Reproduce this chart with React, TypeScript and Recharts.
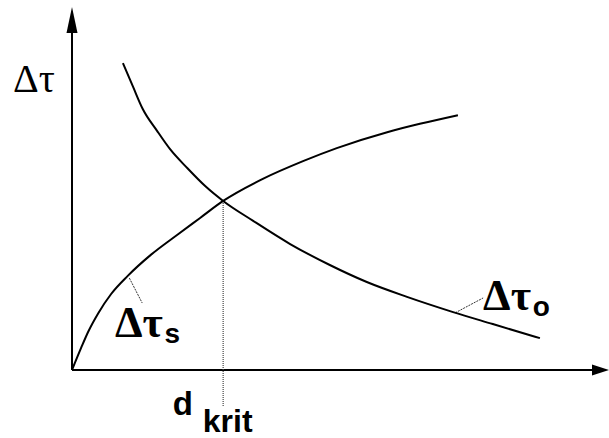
import { LineChart, Line, XAxis, YAxis, ReferenceLine, ReferenceDot } from "recharts";

// d (thickness) against Δτ, both in arbitrary units 0..10
const rising = [
  { x: 0, y: 0 },
  { x: 0.17, y: 0.61 },
  { x: 0.3, y: 1.05 },
  { x: 0.49, y: 1.57 },
  { x: 0.73, y: 2.1 },
  { x: 1.04, y: 2.6 },
  { x: 1.47, y: 3.18 },
  { x: 1.96, y: 3.73 },
  { x: 2.39, y: 4.2 },
  { x: 2.82, y: 4.67 },
  { x: 3.56, y: 5.28 },
  { x: 4.31, y: 5.77 },
  { x: 4.94, y: 6.13 },
  { x: 5.88, y: 6.57 },
  { x: 6.49, y: 6.8 },
  { x: 7.2, y: 7.04 },
];

const falling = [
  { x: 0.95, y: 8.48 },
  { x: 1.14, y: 7.82 },
  { x: 1.32, y: 7.21 },
  { x: 1.59, y: 6.6 },
  { x: 1.83, y: 6.1 },
  { x: 2.15, y: 5.58 },
  { x: 2.5, y: 5.06 },
  { x: 2.82, y: 4.67 },
  { x: 3.38, y: 4.12 },
  { x: 4.07, y: 3.48 },
  { x: 4.81, y: 2.9 },
  { x: 5.5, y: 2.43 },
  { x: 6.25, y: 2.02 },
  { x: 7.11, y: 1.6 },
  { x: 7.85, y: 1.27 },
  { x: 8.73, y: 0.88 },
];

// crossing point of both curves
const dKrit = 2.82;
const tauKrit = 4.67;

const SERIF = "'Liberation Serif', 'Times New Roman', serif";
const SANS = "'Liberation Sans', Arial, sans-serif";

const yArrow = (p: any) => (
  <polygon points={`${p.cx},${p.cy - 1} ${p.cx - 5.5},${p.cy + 25} ${p.cx + 5.5},${p.cy + 25}`} fill="#000" />
);

const xArrow = (p: any) => (
  <polygon points={`${p.cx + 1},${p.cy} ${p.cx - 16},${p.cy - 5.5} ${p.cx - 16},${p.cy + 5.5}`} fill="#000" />
);

const tauLabel = (sub: string, size: number, bold: boolean) => (p: any) => (
  <g fill="#000">
    <text x={p.cx} y={p.cy} fontFamily={SERIF} fontSize={size} fontWeight={bold ? "bold" : "normal"}>
      Δτ
    </text>
    {sub && (
      <text x={p.cx + size * 1.13} y={p.cy + 6} fontFamily={SANS} fontWeight="bold" fontSize={28}>
        {sub}
      </text>
    )}
  </g>
);

const dLabel = (p: any) => (
  <g fill="#000">
    <text x={p.cx} y={p.cy} fontFamily={SANS} fontWeight="bold" fontSize={33}>d</text>
    <text x={p.cx + 30} y={p.cy + 17} fontFamily={SANS} fontWeight="bold" fontSize={32}>krit</text>
  </g>
);

export default function App() {
  return (
    <div style={{ position: "absolute", left: 0, top: 0, background: "#fff" }}>
      <LineChart width={609} height={438} margin={{ top: 8, right: 1, bottom: 68, left: 72 }}>
        <XAxis type="number" dataKey="x" domain={[0, 10]} hide allowDataOverflow />
        <YAxis type="number" dataKey="y" domain={[0, 10]} hide allowDataOverflow />

        {/* axes with arrow heads */}
        <ReferenceLine segment={[{ x: 0, y: 0 }, { x: 0, y: 9.5 }]} stroke="#000" strokeWidth={2} ifOverflow="visible" />
        <ReferenceLine segment={[{ x: 0, y: 0 }, { x: 9.8, y: 0 }]} stroke="#000" strokeWidth={2} ifOverflow="visible" />
        <ReferenceDot x={0} y={10} shape={yArrow} ifOverflow="visible" />
        <ReferenceDot x={10} y={0} shape={xArrow} ifOverflow="visible" />

        {/* drop line at the critical thickness */}
        <ReferenceLine
          segment={[{ x: dKrit, y: tauKrit }, { x: dKrit, y: -1.02 }]}
          stroke="#444"
          strokeWidth={1.2}
          strokeDasharray="1 1"
          ifOverflow="visible"
        />

        {/* leaders from labels to curves */}
        <ReferenceLine segment={[{ x: 1.07, y: 2.54 }, { x: 1.31, y: 1.85 }]} stroke="#333" strokeWidth={1} strokeDasharray="2 1" ifOverflow="visible" />
        <ReferenceLine segment={[{ x: 7.15, y: 1.58 }, { x: 7.67, y: 1.99 }]} stroke="#333" strokeWidth={1} strokeDasharray="2 1" ifOverflow="visible" />

        <Line data={rising} dataKey="y" type="monotone" stroke="#000" strokeWidth={2} dot={false} isAnimationActive={false} />
        <Line data={falling} dataKey="y" type="monotone" stroke="#000" strokeWidth={2} dot={false} isAnimationActive={false} />

        <ReferenceDot x={-1.1} y={7.68} shape={tauLabel("", 40, false)} ifOverflow="visible" />
        <ReferenceDot x={0.8} y={0.91} shape={tauLabel("s", 44, true)} ifOverflow="visible" />
        <ReferenceDot x={7.67} y={1.66} shape={tauLabel("o", 44, true)} ifOverflow="visible" />
        <ReferenceDot x={1.88} y={-1.25} shape={dLabel} ifOverflow="visible" />
      </LineChart>
    </div>
  );
}
